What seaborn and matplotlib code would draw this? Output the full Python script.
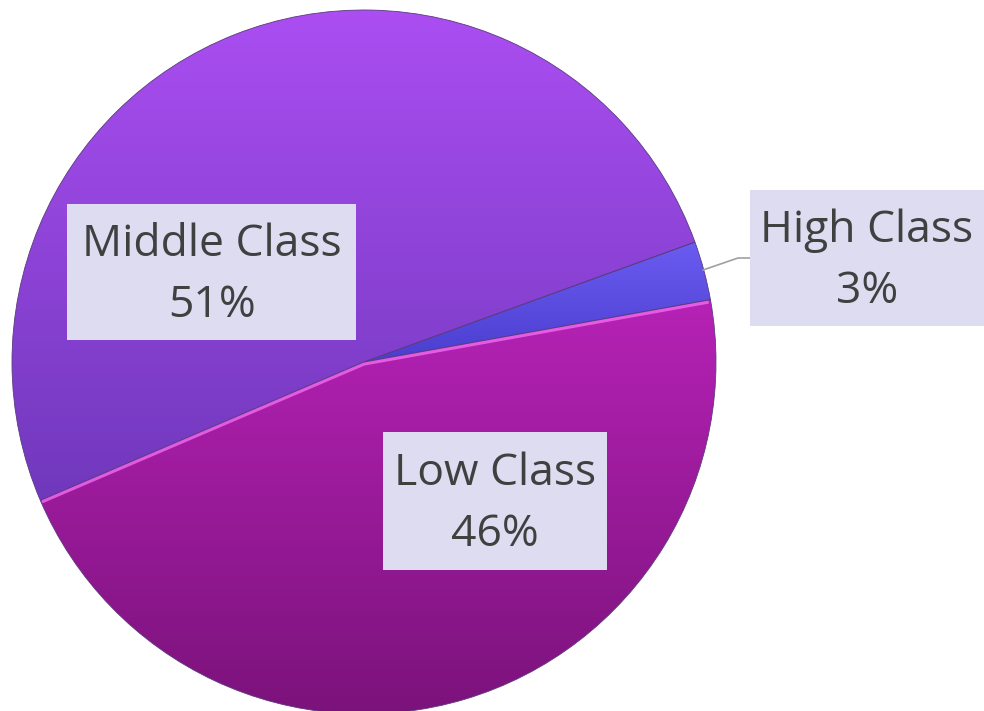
import numpy as np
import matplotlib
matplotlib.use("Agg")
import matplotlib.pyplot as plt
import seaborn as sns
from matplotlib.patches import Rectangle
from matplotlib.colors import LinearSegmentedColormap

# data
labels = ["Low Class", "Middle Class", "High Class"]
shares = [46.4, 50.9, 2.7]
pct_text = ["46%", "51%", "3%"]

# gradient colours (top, bottom) per slice
top_colors = ["#b622b6", "#ab4ef2", "#6a5cf0"]
bottom_colors = ["#7a127a", "#7038bc", "#4a3ed0"]

sns.set_theme(style="white")
plt.rcParams['font.family'] = ['Open Sans', 'DejaVu Sans']

fig = plt.figure(figsize=(9.84, 7.11), dpi=100)
ax = fig.add_axes([0, 0, 1, 1])

wedges, _ = ax.pie(shares, startangle=10.2, counterclock=False,
                   radius=1.0, center=(0, 0),
                   wedgeprops=dict(linewidth=0.6, edgecolor="#5a3a80"))

# fill each wedge with a vertical gradient over its own height
grad = np.linspace(1, 0, 256).reshape(-1, 1)
for w, c_top, c_bot in zip(wedges, top_colors, bottom_colors):
    w.set_facecolor("none")
    verts = w.get_path().vertices
    y0, y1 = verts[:, 1].min(), verts[:, 1].max()
    cmap = LinearSegmentedColormap.from_list("g", [c_bot, c_top])
    im = ax.imshow(grad, cmap=cmap, extent=(-1, 1, y0, y1), origin="upper",
                   aspect="auto", zorder=1, interpolation="bilinear")
    im.set_clip_path(w)
    w.set_zorder(2)

# light bevel highlight along the low-class edges
low = wedges[0]
t1, t2 = np.deg2rad(low.theta1), np.deg2rad(low.theta2)
ax.plot([0.995 * np.cos(t1), 0.0, 0.995 * np.cos(t2)],
        [0.995 * np.sin(t1) - 0.006, -0.006, 0.995 * np.sin(t2) - 0.006],
        color="#ee66ee", lw=2.2, alpha=0.85, zorder=3,
        solid_joinstyle="round", solid_capstyle="butt")

s = 352.0  # pixels per data unit
ax.set_xlim(-364 / s, (984 - 364) / s)
ax.set_ylim(-(711 - 362) / s, 362 / s)
ax.set_aspect("auto")
ax.axis("off")

# label boxes: centre (x, y) and size (w, h) in data units
boxes = {
    "Middle Class": ((-0.433, 0.256), (289 / s, 136 / s)),
    "High Class": ((1.429, 0.295), (234 / s, 136 / s)),
    "Low Class": ((0.372, -0.395), (224 / s, 138 / s)),
}
for name, pct in zip(labels, pct_text):
    (cx, cy), (bw, bh) = boxes[name]
    ax.add_patch(Rectangle((cx - bw / 2, cy - bh / 2), bw, bh,
                           facecolor="#dedcf0", edgecolor="none", zorder=5))
    ax.text(cx, cy - 3 / s, f"{name}\n{pct}", ha="center", va="center",
            fontsize=32, color="#404040", linespacing=1.5, zorder=6)

# leader line for the small slice
ax.plot([(703 - 364) / s, (738 - 364) / s, (750 - 364) / s],
        [(362 - 270) / s, (362 - 258) / s, (362 - 258) / s],
        color="#a0a0a0", lw=1.2, zorder=4)

fig.savefig("out.png", dpi=100, facecolor="white")
